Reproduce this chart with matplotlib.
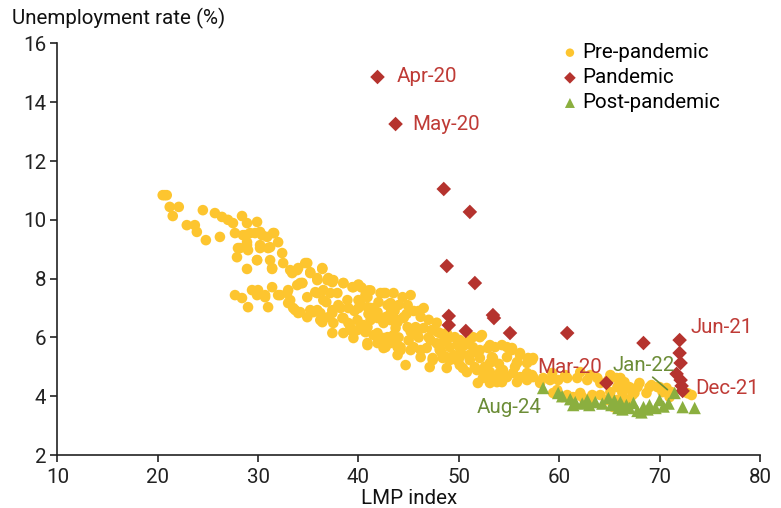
import matplotlib
matplotlib.use("Agg")
import matplotlib.pyplot as plt

plt.rcParams['font.family'] = ['Roboto', 'DejaVu Sans']

# ---------------- data ----------------
pre_x = [
 20.5, 20.7, 20.9, 21.2, 22.1, 21.5, 24.5, 25.7, 26.4, 27.0, 28.4, 22.9, 23.7, 23.9, 24.8, 26.2, 27.5, 28.9, 29.9,
 27.7, 28.5, 29.2, 30.2, 30.9, 31.6, 32.0, 28.9, 28.0, 30.2, 31.0, 29.0, 27.9, 29.9, 31.2, 32.4, 32.5, 28.9, 31.4,
 34.9, 36.4, 33.9, 33.4, 35.2, 27.7, 28.4, 29.4, 29.9, 30.7, 29.0, 31.0, 32.0, 31.4, 33.0, 33.2, 33.9, 34.4, 34.9,
 33.5, 34.0, 35.9, 36.9, 37.5, 38.5, 36.5, 37.9, 35.9, 35.2, 36.2, 37.4, 38.4, 36.5, 38.9,
 28.7, 29.7, 30.4, 31.5, 28.2, 28.9, 30.2, 31.2, 29.9, 31.4, 33.2, 34.0, 35.9, 37.0, 37.4, 39.4, 34.2, 32.9, 35.7,
 37.2, 40.0, 40.7, 40.0, 40.9, 41.5, 42.2, 42.7, 30.0, 30.7, 32.2, 33.0, 33.7, 35.9, 37.4, 37.0, 36.4, 38.5, 39.0,
 39.9, 40.5, 41.2, 41.9, 42.4, 43.0, 43.9, 37.4, 38.5, 39.2, 39.5, 40.7, 40.9, 41.5, 42.2, 42.9, 43.5, 42.5, 43.9,
 43.9, 34.7, 36.4, 35.2, 37.2, 38.5, 39.5, 34.4, 40.9, 44.4, 45.2, 43.2, 44.0, 44.9, 40.2, 41.2, 41.9, 42.7, 43.2,
 43.9, 44.5, 44.9, 45.7, 46.5, 47.3, 47.9, 48.8, 49.6, 39.2, 37.5, 39.9, 40.9, 41.9, 42.5, 43.4, 40.9, 41.9, 42.7,
 44.2, 45.2, 46.2, 44.7, 47.4, 48.3, 49.1, 50.1, 50.6, 51.4, 52.1, 52.1, 52.9, 53.6, 53.3, 49.1, 50.1, 50.8, 51.8,
 52.6, 51.9, 53.1, 53.8, 34.2, 35.5, 34.9, 36.2, 42.5, 43.5, 42.9, 44.5, 43.2, 42.5, 43.7, 46.0, 47.4, 48.8, 49.9,
 50.8, 53.1, 54.3, 55.3, 56.1, 57.3, 57.4, 43.2, 44.2, 45.5, 46.8, 48.1, 46.2, 47.4, 48.8, 49.8, 51.1, 52.1, 53.4,
 54.8, 55.8, 56.8, 47.1, 48.8, 50.4, 53.1, 54.4, 55.4, 56.8, 52.8, 54.8, 56.1, 53.8, 55.8, 56.8, 48.1, 49.1, 51.4,
 52.3, 54.8, 55.3, 56.1, 56.9, 57.4, 55.8, 53.1, 54.1, 52.4, 54.3, 56.4, 57.3, 58.1, 59.1, 59.9, 60.8, 61.8, 62.8,
 63.8, 64.9, 65.7, 66.5, 66.3, 67.2, 67.8, 59.8, 60.3, 61.4, 62.3, 63.1, 64.1, 64.8, 65.7, 66.7, 65.4, 48.1, 48.4,
 50.1, 51.6, 58.4, 59.3, 60.6, 62.1, 63.1, 65.1, 66.1, 64.1, 65.8, 67.0, 68.0, 69.2, 70.0, 70.3, 71.2, 73.2, 68.7,
 67.5, 66.3, 65.1, 63.3, 62.1, 60.8, 59.4, 64.8, 69.0, 69.8, 70.7, 67.3, 71.0, 72.8, 45.5, 46.2, 47.0, 47.8, 46.5,
 40.0, 41.0, 45.2, 46.0, 47.2, 48.2, 45.0, 44.0,
 41.0, 42.0, 43.6, 44.8, 46.0, 38.0, 39.0, 40.3, 41.2, 36.8, 38.2, 39.6, 45.6, 47.0, 48.6, 50.2, 51.0, 52.6, 54.0,
 55.6, 50.0, 51.5, 49.5, 47.8,
]
pre_y = [
 10.84, 10.84, 10.84, 10.44, 10.44, 10.13, 10.33, 10.23, 10.10, 10.00, 10.13, 9.82, 9.82, 9.59, 9.31, 9.42, 9.89, 9.89, 9.93,
 9.55, 9.48, 9.55, 9.59, 9.42, 9.55, 9.24, 9.24, 9.04, 9.04, 9.04, 8.97, 8.73, 8.63, 8.63, 8.87, 8.53, 8.33, 8.33,
 8.53, 8.33, 8.29, 8.19, 8.19, 7.44, 7.34, 7.61, 7.44, 7.44, 7.03, 7.03, 7.44, 7.71, 7.61, 7.27, 7.78, 7.85, 7.37,
 7.00, 6.83, 7.95, 7.95, 7.95, 7.85, 7.61, 7.51, 7.51, 6.93, 6.83, 6.83, 6.66, 7.27, 7.27,
 9.48, 9.55, 9.48, 9.55, 9.04, 9.14, 9.14, 9.07, 8.63, 8.36, 8.29, 8.36, 8.02, 8.02, 7.88, 7.71, 7.85, 7.51, 7.54,
 7.51, 7.27, 7.44, 7.00, 7.03, 7.00, 7.51, 7.51, 7.61, 7.37, 7.44, 7.17, 6.93, 6.93, 6.93, 6.69, 6.52, 6.66, 6.49,
 6.59, 6.42, 6.59, 6.66, 6.59, 6.66, 6.59, 6.15, 6.15, 6.25, 5.98, 6.18, 5.74, 6.08, 5.84, 6.01, 6.08, 5.64, 5.67,
 5.40, 8.53, 8.36, 8.22, 7.95, 7.85, 7.71, 7.85, 7.37, 7.37, 7.44, 7.17, 7.10, 7.10, 7.20, 7.00, 6.86, 6.69, 6.59,
 6.52, 6.66, 6.35, 6.35, 6.32, 6.25, 6.18, 6.15, 6.01, 6.35, 6.49, 6.25, 6.35, 6.15, 5.98, 5.91, 5.81, 5.81, 5.67,
 5.57, 5.57, 5.57, 5.06, 5.23, 5.47, 5.67, 5.91, 5.74, 5.67, 6.01, 5.57, 5.64, 5.67, 5.33, 5.23, 5.06, 4.82, 4.89,
 4.79, 4.45, 4.45, 4.62, 6.86, 6.86, 6.69, 6.59, 7.51, 7.51, 7.10, 6.69, 6.83, 6.49, 6.32, 6.25, 6.25, 6.08, 5.84,
 5.84, 5.74, 5.74, 5.64, 5.40, 5.23, 4.65, 5.81, 5.67, 5.67, 5.64, 5.64, 5.33, 5.30, 5.33, 5.23, 5.23, 5.30, 5.30,
 5.33, 5.16, 5.13, 4.99, 4.96, 4.96, 4.82, 4.89, 4.79, 4.79, 4.65, 4.65, 4.65, 4.48, 4.48, 4.55, 6.15, 6.01, 6.01,
 6.08, 5.67, 5.57, 5.47, 5.30, 5.30, 5.13, 5.13, 4.82, 4.62, 4.48, 4.65, 4.72, 4.45, 4.55, 4.55, 4.62, 4.62, 4.55,
 4.62, 4.55, 4.62, 4.48, 4.28, 4.21, 4.31, 4.21, 3.97, 3.97, 3.97, 3.87, 4.04, 3.87, 3.87, 3.87, 3.63, 5.57, 5.30,
 5.33, 4.99, 4.62, 4.79, 4.72, 4.82, 4.72, 4.72, 4.62, 4.45, 4.31, 4.31, 4.45, 4.38, 4.31, 4.14, 4.14, 4.04, 4.11,
 4.11, 4.11, 4.14, 4.04, 4.11, 4.04, 4.11, 4.48, 4.31, 4.31, 4.28, 4.04, 3.97, 4.10, 6.90, 6.70, 6.60, 6.50, 7.00,
 7.80, 7.60, 6.20, 6.00, 5.90, 5.80, 5.90, 6.00,
 6.80, 7.20, 6.90, 6.80, 6.90, 7.10, 7.00, 7.70, 7.60, 7.20, 7.00, 6.90, 6.10, 6.00, 5.90, 5.50, 5.40, 5.00, 5.10,
 5.00, 5.70, 5.50, 5.40, 5.80,
]

pan_labels = ["Mar-20", "Apr-20", "May-20", "Jun-20", "Jul-20", "Aug-20", "Sep-20", "Oct-20", "Nov-20", "Dec-20",
              "Jan-21", "Feb-21", "Mar-21", "Apr-21", "May-21", "Jun-21", "Jul-21", "Aug-21", "Sep-21", "Oct-21",
              "Nov-21", "Dec-21"]
pan_x = [64.7, 41.9, 43.7, 48.5, 51.1, 48.8, 51.6, 53.4, 49.0, 53.5, 49.0, 50.7, 55.1, 60.8, 68.4, 72.0, 72.0, 72.1,
         71.7, 72.1, 72.2, 72.3]
pan_y = [4.45, 14.86, 13.26, 11.05, 10.27, 8.43, 7.85, 6.76, 6.73, 6.66, 6.42, 6.22, 6.15, 6.15, 5.81, 5.91, 5.47, 5.13,
         4.76, 4.55, 4.35, 4.18]

post_x = [71.5, 72.3, 73.5, 70.9, 70.4, 70.0, 69.6, 69.0, 68.8, 68.4, 68.2, 67.8, 67.4, 67.0, 66.7, 66.3, 66.1, 65.9,
          65.5, 65.2, 64.9, 64.3, 63.6, 63.0, 62.8, 62.3, 61.6, 61.4, 61.1, 60.3, 59.9, 58.4]
post_y = [4.11, 3.63, 3.60, 3.75, 3.65, 3.87, 3.60, 3.70, 3.55, 3.63, 3.45, 3.50, 3.77, 3.60, 3.70, 3.55, 3.80, 3.60,
          3.85, 3.70, 3.94, 3.75, 3.80, 3.70, 3.87, 3.75, 3.80, 3.70, 3.90, 4.00, 4.11, 4.28]

x_ticks = [10, 20, 30, 40, 50, 60, 70, 80]
y_ticks = [2, 4, 6, 8, 10, 12, 14, 16]

# ---------------- style ----------------
YELLOW = "#FDC52F"
RED = "#B5332E"
RED_TXT = "#BF3B36"
GREEN = "#8BAF3F"
GREEN_TXT = "#6C8D37"
FS = 14.8

fig = plt.figure(figsize=(7.81, 5.08), dpi=100)
ax = fig.add_axes([0.0734, 0.1043, 0.8996, 0.8101])

ax.scatter(pre_x, pre_y, s=58, color=YELLOW, edgecolors='none', zorder=2, label="Pre-pandemic")
ax.scatter(pan_x, pan_y, s=55, marker='D', color=RED, edgecolors='none', zorder=3, label="Pandemic")
ax.scatter(post_x, post_y, s=80, marker='^', color=GREEN, edgecolors='none', zorder=4, label="Post-pandemic")

ax.set_xlim(10, 80)
ax.set_ylim(2, 16)
ax.set_xticks(x_ticks)
ax.set_yticks(y_ticks)
ax.tick_params(axis='both', direction='out', length=5, width=1.2, labelsize=FS, colors='#222222')
ax.tick_params(axis='x', pad=4)
ax.tick_params(axis='y', pad=3)
for s in ['top', 'right']:
    ax.spines[s].set_visible(False)
for s in ['left', 'bottom']:
    ax.spines[s].set_linewidth(1.2)
    ax.spines[s].set_color('#222222')

ax.set_xlabel("LMP index", fontsize=FS, color='#111111', labelpad=2)
fig.text(12 / 781, 1 - 18 / 508, "Unemployment rate (%)", fontsize=FS, color='#111111', ha='left', va='center')

# annotations
def lab(name, dx, dy, color, series_x, series_y, labels):
    i = labels.index(name)
    ax.annotate(name, (series_x[i], series_y[i]), xytext=(dx, dy), textcoords='offset points',
                ha='left', va='center', fontsize=FS, color=color)

lab("Apr-20", 14, 0, RED_TXT, pan_x, pan_y, pan_labels)
lab("May-20", 12, 0, RED_TXT, pan_x, pan_y, pan_labels)
lab("Jun-21", 8, 9, RED_TXT, pan_x, pan_y, pan_labels)
lab("Dec-21", 9, 2, RED_TXT, pan_x, pan_y, pan_labels)
lab("Mar-20", -50, 11, RED_TXT, pan_x, pan_y, pan_labels)

ax.annotate("Aug-24", (post_x[-1], post_y[-1]), xytext=(-48, -14), textcoords='offset points',
            ha='left', va='center', fontsize=FS, color=GREEN_TXT)
ax.annotate("Jan-22", (post_x[0], post_y[0]), xytext=(-45, 20), textcoords='offset points',
            ha='left', va='center', fontsize=FS, color=GREEN_TXT)
ax.annotate("", (post_x[0] - 0.5, post_y[0] + 0.05), xytext=(post_x[0] - 2.4, post_y[0] + 0.6),
            arrowprops=dict(arrowstyle='-', color=GREEN_TXT, lw=1.2))

leg = ax.legend(loc='upper left', bbox_to_anchor=(0.693, 1.036), frameon=False, fontsize=FS,
                handletextpad=0.05, labelspacing=0.3, borderpad=0.2, handlelength=1.1, markerscale=0.8)

fig.savefig("out.png", dpi=100)
